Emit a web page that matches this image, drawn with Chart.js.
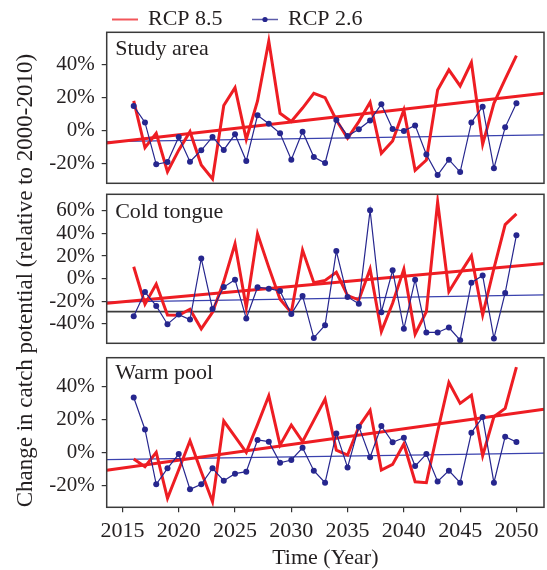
<!DOCTYPE html>
<html><head><meta charset="utf-8">
<script src="https://cdn.jsdelivr.net/npm/chart.js@4.4.1/dist/chart.umd.min.js"></script>
<style>
html,body{margin:0;padding:0;background:#fff;}
#wrap{position:relative;width:547px;height:570px;overflow:hidden;}
canvas{position:absolute;left:0;top:0;}
</style></head><body>
<div id="wrap">
<canvas id="c1" width="547" height="570"></canvas>
<canvas id="c2" width="547" height="570"></canvas>
<canvas id="c3" width="547" height="570"></canvas>
</div>
<script>
// ---------- data ----------
const years = [2016,2017,2018,2019,2020,2021,2022,2023,2024,2025,2026,2027,2028,2029,2030,2031,2032,2033,2034,2035,2036,2037,2038,2039,2040,2041,2042,2043,2044,2045,2046,2047,2048,2049,2050];
const xTickYears = [2015,2020,2025,2030,2035,2040,2045,2050];
const trendYears = [2013.6, 2052.45];
const seriesNames = ['RCP 8.5', 'RCP 2.6'];
const panelNames = ['Study area', 'Cold tongue', 'Warm pool'];

const studyRcp85 = [17.8,-10.5,-1.8,-25.1,-12,-0.8,-21,-29.5,15,25.9,-5.5,17.8,54.1,10.3,5.3,13.5,22.4,19.8,6.3,-4.8,5.3,17,-13.9,-6.5,12.3,-24.2,-18,24.4,36.6,26.9,41.2,-8.5,16.4,31,45.3];
const studyRcp26 = [14.7,4.8,-20.6,-19.2,-4,-19,-12.1,-4,-11.9,-2.4,-18.6,9.1,4,-1.8,-17.8,-0.8,-16.2,-19.8,6.3,-3.4,0.6,5.9,15.8,0.8,-0.4,3,-14.7,-27.1,-17.8,-25.3,4.8,14.3,-23,1.8,16.4];
const coldRcp85 = [10.6,-22.6,-4.7,-32.1,-32.4,-27.1,-44.4,-29.7,-2.6,30.9,-25.6,39.7,10,-18.2,-30,25.3,-3.5,-1.5,5.6,-15,-18.8,8.5,-46.8,-21.8,8.5,-49.1,-29.1,67.9,-11.5,4.7,20.3,-32.1,9,47.9,57.4];
const coldRcp26 = [-33.2,-11.8,-24.1,-40.3,-31.8,-36.2,17.9,-26.8,-7.4,-0.9,-35.3,-7.6,-8.8,-10.9,-31.2,-15.3,-52.4,-41.2,24.4,-16.2,-22.1,60.6,-29.7,7.4,-44.4,-0.9,-47.6,-47.6,-43.2,-54.4,-3.5,2.9,-52.9,-12.6,38.5];
const warmRcp85 = [-3.8,-8.5,0.2,-27.7,-10.3,7.3,-11.5,-29.7,19.2,9.7,0.2,17,34.5,4.6,16.8,6.7,19.6,32.5,1.6,-1.4,15.8,25.7,-10.5,-7.1,5.3,-17.6,-18.2,13,42.6,29.9,34.9,-1.8,21.8,26.9,51.9];
const warmRcp26 = [33.5,14.1,-19.2,-9.5,-0.8,-22.2,-19.2,-9.5,-17,-12.7,-11.5,7.7,6.7,-6.1,-4.4,3,-10.9,-18.2,11.7,-8.9,15.8,-2.8,16.2,6.3,9.1,-8.1,-0.8,-17.4,-10.9,-18.2,12.1,21.6,-18.2,9.7,6.5];

// linear trend lines (values at the two ends of the time axis)
const studyTrend85 = [-7.7, 22.4];
const studyTrend26 = [-6.9, -2.8];
const coldTrend85 = [-21.8, 13.5];
const coldTrend26 = [-20.8, -14.4];
const warmTrend85 = [-10.7, 26.3];
const warmTrend26 = [-4.2, -0.2];
const coldRefLine = [-29.2, -29.2];

// y-axis ranges and ticks
const studyRange = [-32.1, 59.4];
const coldRange = [-57.2, 74.7];
const warmRange = [-33.1, 57.6];
const studyTicks = [-20, 0, 20, 40];
const coldTicks = [-40, -20, 0, 20, 40, 60];
const warmTicks = [-20, 0, 20, 40];

// ---------- styles ----------
const RED = '#ee1d23';
const BLUE = '#26268e';
const BLUE_TREND = '#3a42ae';
const INK = '#231f20';
const FONT = "'Liberation Serif','Times New Roman',serif";
Chart.defaults.font.family = FONT;
Chart.defaults.color = INK;

const pts = (xs, ys) => xs.map((x, i) => ({x, y: ys[i]}));

function buildDatasets(r85, r26, t85, t26, ref) {
  const ds = [
    {label: seriesNames[1], data: pts(years, r26), borderColor: BLUE, backgroundColor: BLUE,
     borderWidth: 1.2, pointRadius: 3, pointBorderWidth: 0, pointHoverRadius: 3, order: 0, legendItem: true, legendPoint: true},
    {label: seriesNames[0], data: pts(years, r85), borderColor: RED, backgroundColor: RED,
     borderWidth: 3, pointRadius: 0, order: 1, legendItem: true},
    {label: 'trend85', data: pts(trendYears, t85), borderColor: RED, borderWidth: 3, pointRadius: 0, order: 2},
    {label: 'trend26', data: pts(trendYears, t26), borderColor: BLUE_TREND, borderWidth: 1.3, pointRadius: 0, order: 3}
  ];
  if (ref) ds.push({label: 'ref', data: pts(trendYears, ref), borderColor: '#3c3c3c', borderWidth: 1.6, pointRadius: 0, order: 4});
  return ds;
}

const framePlugin = {
  id: 'frame',
  afterDatasetsDraw(chart) {
    const {ctx, chartArea: a} = chart;
    ctx.save();
    ctx.strokeStyle = '#3a3a3a';
    ctx.lineWidth = 1.5;
    ctx.strokeRect(a.left, a.top, a.right - a.left, a.bottom - a.top);
    ctx.restore();
  }
};

const panelLabelPlugin = {
  id: 'panelLabel',
  afterDatasetsDraw(chart, args, opts) {
    if (!opts || !opts.text) return;
    const {ctx, chartArea: a} = chart;
    ctx.save();
    ctx.font = opts.size + 'px ' + FONT;
    ctx.fillStyle = INK;
    ctx.textBaseline = 'alphabetic';
    ctx.textAlign = 'left';
    ctx.fillText(opts.text, a.left + opts.dx, a.top + opts.dy);
    ctx.restore();
  }
};

const lineLegendPlugin = {
  id: 'lineLegend',
  afterDraw(chart, args, opts) {
    if (!opts || !opts.items) return;
    const {ctx} = chart;
    const dsList = chart.data.datasets.filter(d => d.legendItem);
    ctx.save();
    ctx.font = opts.size + 'px ' + FONT;
    ctx.textBaseline = 'middle';
    opts.items.forEach(it => {
      const d = dsList.find(x => x.label === it.label);
      if (!d) return;
      ctx.strokeStyle = d.borderColor;
      ctx.lineWidth = it.lineWidth;
      ctx.globalAlpha = it.alpha;
      ctx.beginPath();
      ctx.moveTo(it.x0, opts.y);
      ctx.lineTo(it.x1, opts.y);
      ctx.stroke();
      ctx.globalAlpha = 1;
      if (d.legendPoint) {
        ctx.fillStyle = d.backgroundColor;
        ctx.beginPath();
        ctx.arc((it.x0 + it.x1) / 2, opts.y, 2.6, 0, Math.PI * 2);
        ctx.fill();
      }
      ctx.fillStyle = INK;
      ctx.fillText(d.label, it.tx, opts.y);
    });
    ctx.restore();
  }
};

const Y_WIDTH = 106.7;

function makeChart(id, o) {
  return new Chart(document.getElementById(id), {
    type: 'line',
    data: {datasets: o.datasets},
    plugins: [framePlugin, panelLabelPlugin, lineLegendPlugin],
    options: {
      responsive: false,
      animation: false,
      events: [],
      layout: {padding: {left: 0, right: 1, top: o.top, bottom: o.bottom}},
      plugins: {
        legend: {display: false},
        tooltip: {enabled: false},
        panelLabel: {text: o.label, size: 22, dx: 8.5, dy: o.labelDy},
        lineLegend: o.legend || false
      },
      scales: {
        x: {
          type: 'linear',
          min: trendYears[0], max: trendYears[1],
          display: o.showX,
          afterBuildTicks: s => { s.ticks = xTickYears.map(v => ({value: v})); },
          afterFit: s => { if (o.showX) s.height = o.xHeight; },
          grid: {display: true, drawOnChartArea: false, drawTicks: true, tickLength: 5, color: '#333', lineWidth: 1.2},
          border: {display: false},
          ticks: {font: {size: 22}, color: INK, padding: 6, maxRotation: 0, autoSkip: false, callback: v => String(v)},
          title: {display: !!o.showX, text: 'Time (Year)', font: {size: 22}, color: INK, padding: {top: 0, bottom: -1}}
        },
        y: {
          type: 'linear',
          min: o.range[0], max: o.range[1],
          afterBuildTicks: s => { s.ticks = o.ticks.map(v => ({value: v})); },
          afterFit: s => { s.width = Y_WIDTH; },
          grid: {display: true, drawOnChartArea: false, drawTicks: true, tickLength: 5, color: '#333', lineWidth: 1.2},
          border: {display: false},
          ticks: {font: {size: 21}, color: INK, padding: 7, callback: v => v + '%'},
          title: o.yTitle ? {display: true, text: o.yTitle, align: 'start', font: {size: 23}, color: INK, padding: {top: 12, bottom: 0}} : {display: false}
        }
      }
    }
  });
}

makeChart('c1', {
  datasets: buildDatasets(studyRcp85, studyRcp26, studyTrend85, studyTrend26),
  top: 32.3, bottom: 570 - 183.3, range: studyRange, ticks: studyTicks,
  label: panelNames[0], labelDy: 23, showX: false,
  legend: {y: 19.5, size: 22, items: [
    {label: seriesNames[0], x0: 112, x1: 138, tx: 148, lineWidth: 2, alpha: 0.75},
    {label: seriesNames[1], x0: 252, x1: 278, tx: 288, lineWidth: 1.5, alpha: 0.75}
  ]}
});
makeChart('c2', {
  datasets: buildDatasets(coldRcp85, coldRcp26, coldTrend85, coldTrend26, coldRefLine),
  top: 194.3, bottom: 570 - 343.3, range: coldRange, ticks: coldTicks,
  label: panelNames[1], labelDy: 24, showX: false
});
makeChart('c3', {
  datasets: buildDatasets(warmRcp85, warmRcp26, warmTrend85, warmTrend26),
  top: 357.7, bottom: 0, xHeight: 570 - 507.3, range: warmRange, ticks: warmTicks,
  label: panelNames[2], labelDy: 21, showX: true,
  yTitle: 'Change in catch potential (relative to 2000-2010)'
});
</script>
</body></html>
